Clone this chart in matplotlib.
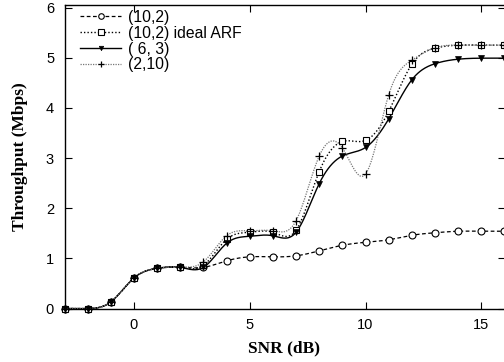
import numpy as np
import matplotlib
matplotlib.use("Agg")
import matplotlib.pyplot as plt
from matplotlib.lines import Line2D

snr = [-3, -2, -1, 0, 1, 2, 3, 4, 5, 6, 7, 8, 9, 10, 11, 12, 13, 14, 15, 16]
s_10_2 = [0, 0, 0.13, 0.61, 0.80, 0.82, 0.82, 0.95, 1.03, 1.03, 1.05, 1.15, 1.26, 1.32, 1.37, 1.46, 1.51, 1.54, 1.54, 1.54]
s_10_2_ideal = [0, 0, 0.13, 0.61, 0.80, 0.82, 0.86, 1.38, 1.52, 1.52, 1.56, 2.73, 3.33, 3.35, 3.93, 4.87, 5.19, 5.25, 5.25, 5.25]
s_6_3 = [0, 0, 0.13, 0.61, 0.80, 0.82, 0.82, 1.30, 1.44, 1.45, 1.52, 2.49, 3.04, 3.21, 3.78, 4.56, 4.88, 4.97, 4.99, 4.99]
s_2_10 = [0, 0, 0.13, 0.61, 0.80, 0.83, 0.93, 1.45, 1.55, 1.55, 1.75, 3.04, 3.20, 2.68, 4.26, 4.95, 5.20, 5.25, 5.25, 5.25]
labels = ["(10,2)", "(10,2) ideal ARF", "( 6, 3)", "(2,10)"]
x_ticks = [0, 5, 10, 15]
y_ticks = [0, 1, 2, 3, 4, 5, 6]


def natural_spline(x, y, n=600):
    x = np.asarray(x, float)
    y = np.asarray(y, float)
    k = len(x)
    h = np.diff(x)
    A = np.zeros((k, k))
    b = np.zeros(k)
    A[0, 0] = 1
    A[-1, -1] = 1
    for i in range(1, k - 1):
        A[i, i - 1] = h[i - 1]
        A[i, i] = 2 * (h[i - 1] + h[i])
        A[i, i + 1] = h[i]
        b[i] = 6 * ((y[i + 1] - y[i]) / h[i] - (y[i] - y[i - 1]) / h[i - 1])
    M = np.linalg.solve(A, b)
    xs = np.linspace(x[0], x[-1], n)
    idx = np.clip(np.searchsorted(x, xs) - 1, 0, k - 2)
    x0, x1 = x[idx], x[idx + 1]
    hh = x1 - x0
    t0 = x1 - xs
    t1 = xs - x0
    ys = (M[idx] * t0 ** 3 / (6 * hh) + M[idx + 1] * t1 ** 3 / (6 * hh)
          + (y[idx] / hh - M[idx] * hh / 6) * t0
          + (y[idx + 1] / hh - M[idx + 1] * hh / 6) * t1)
    return xs, ys


plt.rcParams['font.family'] = ['Liberation Sans', 'DejaVu Sans']

fig = plt.figure(figsize=(5.04, 3.62), dpi=100)
ax = fig.add_axes([64.5 / 504, 53.5 / 362, 440 / 504, 304 / 362])

styles = [
    dict(color='black', ls=(0, (3, 2)), lw=0.9, marker='o', ms=5, mfc='white', mec='black', mew=0.8),
    dict(color='black', ls=(0, (1, 1.5)), lw=1.0, marker='s', ms=5, mfc='white', mec='black', mew=0.8),
    dict(color='black', ls='-', lw=1.0, marker='v', ms=4, mfc='black', mec='black', mew=0.5),
    dict(color='#777777', ls=(0, (1, 1)), lw=0.9, marker='+', ms=6, mfc='none', mec='black', mew=0.9),
]
series = [s_10_2, s_10_2_ideal, s_6_3, s_2_10]

for ser, st in zip(series, styles):
    xs, ys = natural_spline(snr, ser)
    ax.plot(xs, ys, color=st['color'], ls=st['ls'], lw=st['lw'], zorder=2)
    ax.plot(snr, ser, ls='none', marker=st['marker'], ms=st['ms'], mfc=st['mfc'],
            mec=st['mec'], mew=st['mew'], zorder=3, clip_on=False)

handles = [Line2D([], [], color=st['color'], ls=st['ls'], lw=st['lw'], marker=st['marker'],
                  ms=st['ms'] * 0.8, mfc=st['mfc'], mec=st['mec'], mew=st['mew'])
           for st in styles]
leg = ax.legend(handles, labels, loc='upper left', frameon=False, fontsize=11.3,
                handlelength=2.6, handletextpad=0.45, labelspacing=0.05,
                borderpad=0.0, borderaxespad=0.0, bbox_to_anchor=(0.036, 0.982))

ax.set_xlim(-3, 16)
ax.set_ylim(0, 6.06)
ax.set_xticks(x_ticks)
ax.set_yticks(y_ticks)
ax.tick_params(direction='in', length=5, width=0.8, labelsize=10.5, top=True, right=True)
ax.tick_params(axis='x', pad=7)
ax.tick_params(axis='y', pad=7.5)
for sp in ax.spines.values():
    sp.set_linewidth(1.0)

ax.set_xlabel('SNR (dB)', fontfamily='Liberation Serif', fontweight='bold', fontsize=12.5, labelpad=6)
ax.set_ylabel('Throughput (Mbps)', fontfamily='Liberation Serif', fontweight='bold', fontsize=12.5, labelpad=12.5)

fig.savefig('out.png', dpi=100)
